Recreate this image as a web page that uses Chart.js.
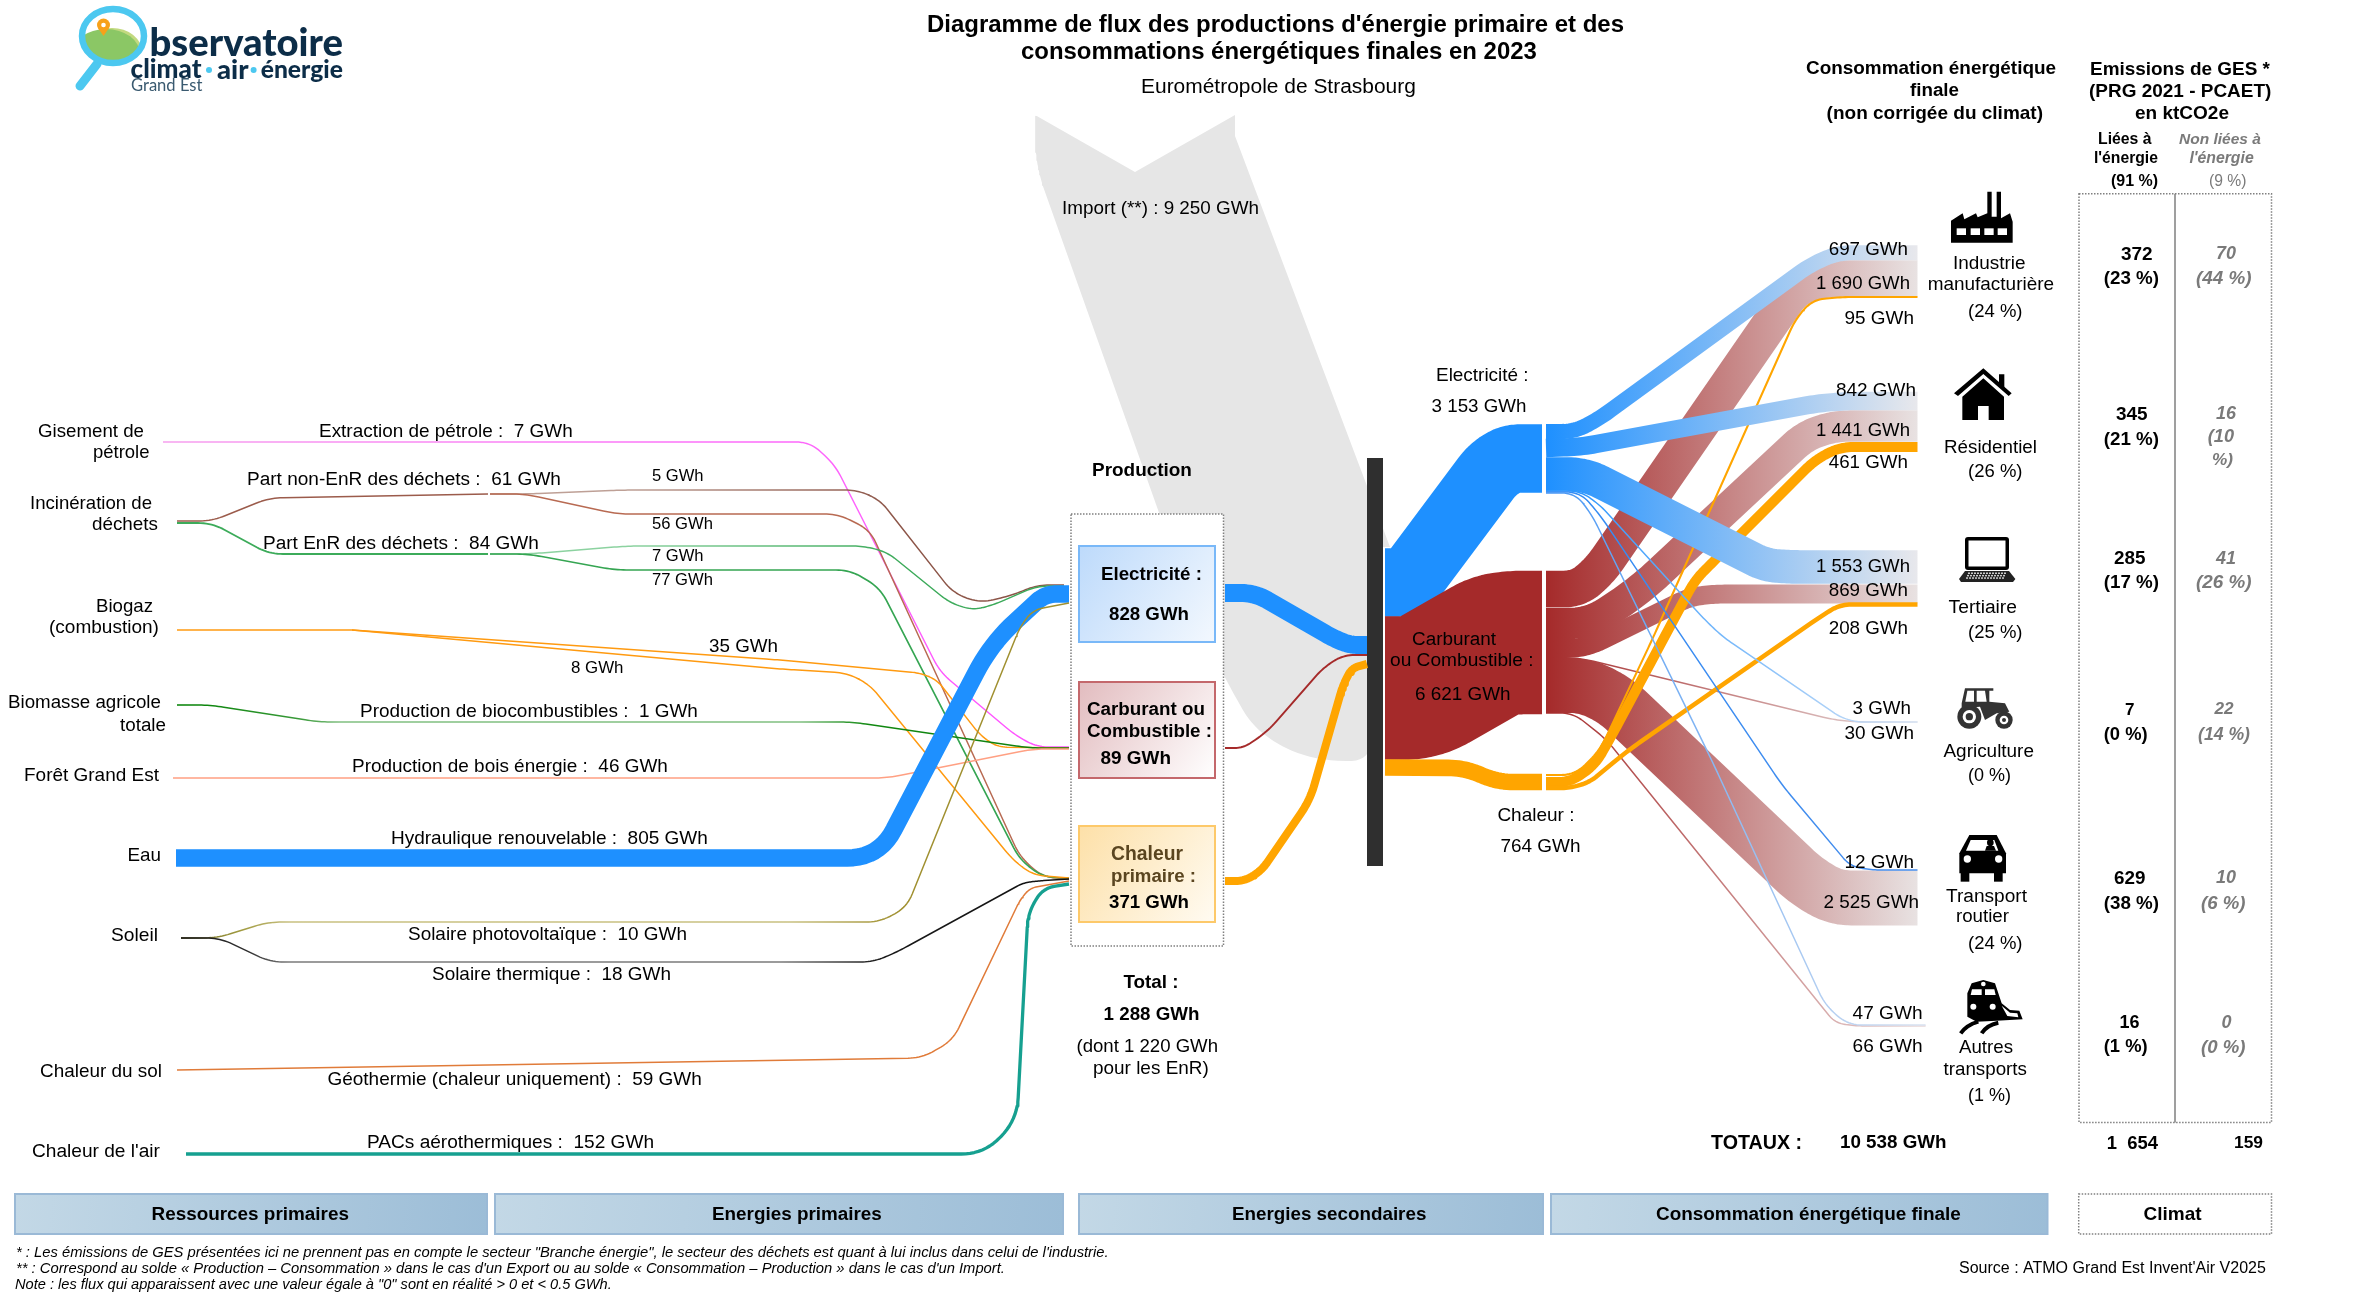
<!DOCTYPE html>
<html lang="fr"><head><meta charset="utf-8"><title>Diagramme de flux</title>
<style>html,body{margin:0;padding:0;background:#fff;overflow:hidden}canvas{display:block}</style>
<script src="https://cdn.jsdelivr.net/npm/chart.js@4"></script></head><body>
<canvas id="c" width="2370" height="1299"></canvas>
<script>
// ---------- chart values (GWh) ----------
const primaryNames = ['petrole','dechetsNonEnR','dechetsNonEnR5','dechetsNonEnR56','dechetsEnR','dechetsEnR7','dechetsEnR77','biogaz','biogaz35','biogaz8','biocombustibles','bois','hydraulique','photovoltaique','thermique','geothermie','pac'];
const primaryValues = [7,61,5,56,84,7,77,43,35,8,1,46,805,10,18,59,152];
const secondaryNames = ['prodElec','prodCarb','prodChaleur'];
const secondaryValues = [828,89,371];
const importValue = [9250];
const finalNames = ['mainElec','mainCarb','mainChaleur'];
const finalValues = [3153,6621,764];
const sectors = ['Ind','Res','Ter','Agr','Rou','Aut'];
const electricityBySector = [697,842,1553,3,12,47];
const fuelBySector = [1690,1441,869,30,2525,66];
const heatBySector = [95,461,208];
const gesEnergy = [372,345,285,7,629,16];
const gesOther = [70,16,41,22,10,0];

// ---------- layout: flow routes (waypoints on the page scale) ----------
const PX_PER_GWH = 0.0217;
const ELEC=[[30,144,255,1],[232,232,236,1]], FUEL=[[165,42,42,1],[232,226,226,1]];
const routes = {
 petrole:{c:[[246,160,238,1],[255,85,255,1],163,1000],p:[[163,442],[810,442],[835,465],[940,672],[1015,735],[1037,747],[1069,747]]},
 dechetsNonEnR:{c:'#9b5b4b',p:[[177,521],[212,521],[269,498],[488,494]]},
 dechetsNonEnR5:{c:[[190,160,150,1],[140,85,72,1],625,900],p:[[490,494],[525,494],[625,490],[857,490],[880,500],[953,593],[980,603],[1013,595],[1037,585],[1064,585]]},
 dechetsNonEnR56:{c:'#b86a52',p:[[490,494],[525,494],[617,514],[838,514],[870,530],[1020,857],[1043,877],[1069,879]]},
 dechetsEnR:{c:'#3cab5a',p:[[177,523],[212,523],[269,554],[488,554]]},
 dechetsEnR7:{c:[[140,210,160,1],[60,170,90,1],630,900],p:[[490,554],[528,554],[628,546],[863,546],[887,552],[950,603],[973,610],[993,605],[1037,586],[1064,586]]},
 dechetsEnR77:{c:'#35a552',p:[[490,554],[528,554],[615,570],[850,570],[880,588],[1020,860],[1043,877],[1069,878]]},
 biogaz:{c:'#ff9a10',p:[[177,630],[352,630]]},
 biogaz35:{c:'#ff9a10',p:[[352,630],[780,660],[920,673],[937,680],[980,735],[997,747],[1069,748]]},
 biogaz8:{c:'#ff9a10',p:[[352,630],[780,669],[847,673],[870,685],[1013,860],[1033,875],[1069,878]]},
 biocombustibles:{c:{stops:[[177,'#008000'],[300,'#3a9a3a'],[340,'#80bf80'],[800,'#80bf80'],[870,'#108810'],[1069,'#108010']]},p:[[177,705],[210,705],[319,722],[852,722],[1030,748],[1069,748]]},
 bois:{c:'#ffa083',p:[[173,778],[887,778],[1033,749],[1069,749]]},
 hydraulique:{c:'#1e90ff',R:32,p:[[176,858],[879,858],[991,644],[1045,594],[1069,594]]},
 photovoltaique:{c:{stops:[[181,'#6b6520'],[240,'#a09a40'],[290,'#c8c080'],[790,'#c8c080'],[900,'#a09030'],[1069,'#a09030']]},p:[[181,938],[217,938],[268,922],[880,922],[907,907],[1020,627],[1033,610],[1069,603]]},
 thermique:{c:{stops:[[181,'#111111'],[250,'#333333'],[290,'#7a7a7a'],[780,'#7a7a7a'],[880,'#1a1a1a'],[1069,'#111111']]},p:[[181,938],[220,938],[270,962],[873,962],[897,952],[1023,883],[1037,881],[1069,879]]},
 geothermie:{c:'#e07b39',p:[[177,1070],[922,1058],[953,1040],[1020,900],[1030,888],[1069,881]]},
 pac:{c:'#16a090',R:25,p:[[186,1154],[984,1154],[1017,1120],[1028,913],[1043,888],[1069,884]]},
 prodElec:{c:'#1e90ff',R:22,p:[[1225,593],[1255,593],[1333,638],[1350,645],[1367,645]]},
 prodCarb:{c:'#a52a2a',R:18,p:[[1225,748],[1243,748],[1267,732],[1323,668],[1343,655],[1367,655]]},
 prodChaleur:{c:'#ffa500',R:16,p:[[1225,881],[1245,881],[1262,870],[1310,800],[1343,685],[1352,668],[1367,664]]},
 mainElec:{c:'#1e90ff',R:36,p:[[1385,582.5],[1408,582.5],[1492,470],[1510,458.5],[1542,458.5]]},
 mainCarb:{c:'#a52a2a',R:34,p:[[1385,688],[1420,688],[1495,645],[1515,642.5],[1542,642.5]]},
 mainChaleur:{c:'#ffa500',R:26,p:[[1385,767.5],[1465,768],[1497,782],[1542,782]]},
 eInd:{c:ELEC,R:26,p:[[1546,431.5],[1575,431.5],[1600,418],[1810,265],[1838,252.7],[1917.5,252.7]]},
 eRes:{c:ELEC,R:20,p:[[1546,448],[1580,447],[1820,403],[1850,401],[1917.5,401]]},
 eTer:{c:ELEC,R:24,p:[[1546,474],[1585,474],[1765,565],[1790,567],[1917.5,567]]},
 eAgr:{c:[[30,144,255,1],[215,228,245,1]],p:[[1546,491],[1580,491],[1600,505],[1705,620],[1723,637],[1840,717],[1856,722],[1917.5,722]]},
 eRou:{c:[[50,140,245,1],[70,140,235,1]],p:[[1546,492],[1580,492],[1600,515],[1782,785],[1850,866],[1871,870],[1917.5,870]]},
 eAut:{c:[[70,150,245,1],[215,225,240,1]],p:[[1546,493],[1575,493],[1592,515],[1713,763],[1825,1005],[1848,1025],[1925.6,1025]]},
 fInd:{c:FUEL,R:26,p:[[1546,589],[1578,589],[1600,570],[1795,288],[1825,278.5],[1917.5,278.5]]},
 fRes:{c:FUEL,R:26,p:[[1546,623.5],[1590,623.5],[1640,590],[1805,436],[1835,426],[1917.5,426]]},
 fTer:{c:FUEL,R:22,p:[[1546,648.5],[1585,648.5],[1690,597],[1715,594],[1917.5,594]]},
 fAgr:{c:FUEL,p:[[1546,658],[1580,658],[1835,720],[1860,722],[1917.5,722]]},
 fRou:{c:FUEL,R:30,p:[[1546,685.5],[1585,685.5],[1615,700],[1805,880],[1835,898],[1917.5,898]]},
 fAut:{c:[[165,42,42,1],[232,215,215,1]],p:[[1546,713],[1573,713],[1606,739],[1835,1023],[1856,1026],[1925.6,1026]]},
 hInd:{c:'#ffa500',p:[[1546,775],[1575,775],[1600,750],[1652,640],[1795,320],[1812,300],[1840,297],[1917.5,297]]},
 hRes:{c:'#ffa500',R:24,p:[[1546,782],[1570,782],[1595,765],[1612,735],[1695,580],[1715,560],[1815,460],[1840,447],[1917.5,447]]},
 hTer:{c:'#ffa500',R:18,p:[[1546,788],[1570,788],[1590,782],[1626,752],[1820,617],[1840,604.5],[1917.5,604.5]]}
};
const importArrowHead=[[1035,115],[1135,172],[1235,115],[1235,136],[1390,547]];
const importBody=[[1372,547],[1372,762],[1320,760],[1285,749],[1252,726],[1223,675],[1190,600],[1040,178],[1035,150],[1035,115]];
const connectorBar=[[1375,458],[1375,866]];

// ---------- texts: [text, left, right, centre y, style, colour] ----------
const GREY='#7a7a7a';
const texts=[
["Diagramme de flux des productions d'énergie primaire et des",927,1624,24,'b'],
["consommations énergétiques finales en 2023",1021,1537,50.6,'b'],
["Eurométropole de Strasbourg",1141,1416,86],
["Gisement de",38,144,430],["pétrole",93,149.5,451],["Extraction de pétrole :  7 GWh",319,573,430],
["Part non-EnR des déchets :  61 GWh",247,561,478],["5 GWh",652,703.6,475],["Incinération de",30,152,502],["déchets",92,158,523],["56 GWh",652,713,523],
["Part EnR des déchets :  84 GWh",263,539,542],["7 GWh",652,703.6,555],["77 GWh",652,713,579],
["Biogaz",96,153,605],["(combustion)",49,159,626.5],["35 GWh",709,778,645],["8 GWh",571,623.5,667],
["Biomasse agricole",8,161,701],["totale",120,166,724],["Production de biocombustibles :  1 GWh",360,698,710],
["Forêt Grand Est",24,159,774],["Production de bois énergie :  46 GWh",352,668,765.5],
["Eau",127.5,161,854],["Hydraulique renouvelable :  805 GWh",391,708,837],
["Soleil",111,158,934],["Solaire photovoltaïque :  10 GWh",408,687,933.5],["Solaire thermique :  18 GWh",432,671,973],
["Chaleur du sol",40,162,1070],["Géothermie (chaleur uniquement) :  59 GWh",327.5,702,1078],
["Chaleur de l'air",32,160,1150.5],["PACs aérothermiques :  152 GWh",367,654,1141.5],
["Ressources primaires",151.5,349,1213,'b'],["Energies primaires",712,882,1213,'b'],["Energies secondaires",1232,1426.5,1213,'b'],["Consommation énergétique finale",1656,1961,1213,'b'],["Climat",2143.5,2201.6,1213,'b'],
["* : Les émissions de GES présentées ici ne prennent pas en compte le secteur \"Branche énergie\", le secteur des déchets est quant à lui inclus dans celui de l'industrie.",16,1110,1251,'i'],
["** : Correspond au solde « Production – Consommation » dans le cas d'un Export ou au solde « Consommation – Production » dans le cas d'un Import.",16,1005,1267,'i'],
["Note : les flux qui apparaissent avec une valeur égale à \"0\" sont en réalité > 0 et < 0.5 GWh.",15,612,1284,'i'],
["Source : ATMO Grand Est Invent'Air V2025",1959,2266,1267],
["Import (**) : 9 250 GWh",1062,1259,207.6],["Production",1092,1192,469,'b'],
["Electricité :",1101,1202,573,'b'],["828 GWh",1109,1189,613,'b'],
["Carburant ou",1087,1205,708,'b'],["Combustible :",1087,1212,730,'b'],["89 GWh",1100.5,1171,757,'b'],
["Chaleur",1111,1183,853,'b','#5a4520'],["primaire :",1111,1196,875,'b','#5a4520'],["371 GWh",1109,1189,901.5,'b'],
["Total :",1123.5,1178.6,981.6,'b'],["1 288 GWh",1103.6,1199.5,1013,'b'],["(dont 1 220 GWh",1076.5,1218,1045],["pour les EnR)",1093,1209,1067],
["Electricité :",1436,1528.6,374.5],["3 153 GWh",1431.6,1526.5,405],
["Carburant",1412,1496,638.6],["ou Combustible :",1390,1533.7,659.4],["6 621 GWh",1415,1510.7,693.6],
["Chaleur :",1497.4,1574.5,814.5],["764 GWh",1500.5,1580.6,845],
["Consommation énergétique",1806,2056,67,'b'],["finale",1910,1959,89.4,'b'],["(non corrigée du climat)",1826.6,2043,112.7,'b'],
["Emissions de GES *",2090,2270,68.4,'b'],["(PRG 2021 - PCAET)",2089,2271.5,90.5,'b'],["en ktCO2e",2135,2229,112.7,'b'],
["Liées à",2098,2151.6,138.4,'b'],["l'énergie",2094,2158,157.4,'b'],["(91 %)",2111,2158,180.7,'b'],
["Non liées à",2179,2261,138.4,'bi',GREY],["l'énergie",2189.4,2253.7,157.4,'bi',GREY],["(9 %)",2209,2246.5,180.7,'',GREY],
["697 GWh",1828.7,1908,248],["1 690 GWh",1816,1910,282],["95 GWh",1844.5,1914,317.5],
["842 GWh",1836,1916,389.5],["1 441 GWh",1816,1910,429.4],["461 GWh",1828.7,1908,461.4],
["1 553 GWh",1816,1910,565.4],["869 GWh",1828.7,1908,589],["208 GWh",1828.7,1908,627],
["3 GWh",1852.6,1911,707.5],["30 GWh",1844.5,1914,732.6],["12 GWh",1844.5,1914,861],["2 525 GWh",1823.6,1919,901.5],
["47 GWh",1852.6,1922.6,1012.4],["66 GWh",1852.6,1922.6,1045.7],
["TOTAUX :",1711,1802,1142.3,'b'],["10 538 GWh",1840,1946.5,1141.4,'b'],["1  654",2106.7,2158,1142.3,'b'],["159",2234,2263,1142.3,'b'],
["Industrie",1953,2025.6,262.6],["manufacturière",1927.7,2054,283.5],["(24 %)",1968,2022.5,311],
["Résidentiel",1944,2037,446.8],["(26 %)",1968,2022.5,471],
["Tertiaire",1948.6,2017,606.6],["(25 %)",1968,2022.5,631.7],
["Agriculture",1943.5,2034,750.8],["(0 %)",1968,2011,775],
["Transport",1946,2027,895],["routier",1956,2009,915.8],["(24 %)",1968,2022.5,943],
["Autres",1959,2013,1046.6],["transports",1943.5,2027,1068],["(1 %)",1968,2011,1095],
[String(gesEnergy[0]),2121,2152.6,253,'b'],["(23 %)",2103.7,2159,277.6,'b'],[String(gesOther[0]),2216,2236,253,'bi',GREY],["(44 %)",2196,2251.6,277.6,'bi',GREY],
[String(gesEnergy[1]),2116,2147.6,413,'b'],["(21 %)",2103.7,2159,438,'b'],[String(gesOther[1]),2216,2236,413,'bi',GREY],["(10",2207.8,2234,436,'bi',GREY],["%)",2212,2233,459,'bi',GREY],
[String(gesEnergy[2]),2114,2145.5,557.5,'b'],["(17 %)",2103.7,2159,581.6,'b'],[String(gesOther[2]),2216,2236,557.5,'bi',GREY],["(26 %)",2196,2251.6,581.6,'bi',GREY],
[String(gesEnergy[3]),2125,2134.5,709,'b'],["(0 %)",2103.7,2147.6,734,'b'],[String(gesOther[3]),2214.4,2233.5,707.5,'bi',GREY],["(14 %)",2198,2250,734,'bi',GREY],
[String(gesEnergy[4]),2114,2145.5,877,'b'],["(38 %)",2103.7,2159,902,'b'],[String(gesOther[4]),2216,2236,877,'bi',GREY],["(6 %)",2201,2245.5,902,'bi',GREY],
[String(gesEnergy[5]),2119.5,2139.5,1021.5,'b'],["(1 %)",2103.7,2147.6,1046,'b'],[String(gesOther[5]),2221.5,2231.5,1021.5,'bi',GREY],["(0 %)",2201,2245.5,1046,'bi',GREY]
];
const TEXT_DY=1.4;

// ---------- helpers ----------
function rounded(pts,R){
  const out=[{x:pts[0][0],y:pts[0][1]}];
  for(let i=1;i<pts.length-1;i++){
    const [x0,y0]=pts[i-1],[x1,y1]=pts[i],[x2,y2]=pts[i+1];
    const d1=Math.hypot(x1-x0,y1-y0),d2=Math.hypot(x2-x1,y2-y1),r=Math.min(R,d1*.48,d2*.48);
    const ax=x1+(x0-x1)*r/d1,ay=y1+(y0-y1)*r/d1,bx=x1+(x2-x1)*r/d2,by=y1+(y2-y1)*r/d2;
    for(let k=0;k<=10;k++){const t=k/10,u=1-t;out.push({x:u*u*ax+2*u*t*x1+t*t*bx,y:u*u*ay+2*u*t*y1+t*t*by});}
  }
  const l=pts[pts.length-1];out.push({x:l[0],y:l[1]});return out;
}
const rgba=a=>`rgba(${a[0]},${a[1]},${a[2]},${a[3]})`;
function stroke(c,x0){
  if(typeof c==='string')return c;
  return ctx=>{
    const ch=ctx.chart;
    if(c.stops){
      if(!ch.chartArea)return c.stops[0][1];
      const s=ch.scales.x,a=c.stops[0][0],b=c.stops[c.stops.length-1][0];
      const g=ch.ctx.createLinearGradient(s.getPixelForValue(a),0,s.getPixelForValue(b),0);
      c.stops.forEach(p=>g.addColorStop((p[0]-a)/(b-a),p[1]));return g;
    }
    if(!ch.chartArea)return rgba(c[0]);
    const a=c[2]??x0,b=c[3]??1917.5,s=ch.scales.x;
    const g=ch.ctx.createLinearGradient(s.getPixelForValue(a),0,s.getPixelForValue(b),0);
    g.addColorStop(0,rgba(c[0]));g.addColorStop(1,rgba(c[1]));return g;
  };
}
const datasets=[];
function addFlow(key,value){
  const r=routes[key];
  datasets.push({label:key,data:rounded(r.p,r.R||14),showLine:true,pointRadius:0,fill:false,
    borderWidth:Math.max(1.5,value*PX_PER_GWH),borderColor:stroke(r.c,r.p[0][0]),borderCapStyle:'butt',borderJoinStyle:'round',tension:0});
}
// bottom → top
const importShape=importArrowHead.map(p=>({x:p[0],y:p[1]})).concat(rounded(importBody,28));
datasets.push({label:'import',data:importShape,showLine:true,pointRadius:0,borderWidth:0,borderColor:'#e6e6e6',backgroundColor:'#e6e6e6',fill:'shape',tension:0});
datasets.push({label:'bar',data:connectorBar.map(p=>({x:p[0],y:p[1]})),showLine:true,pointRadius:0,borderWidth:16,borderColor:'#2f2f2f',borderCapStyle:'butt',fill:false});
finalNames.forEach((n,i)=>addFlow(n,finalValues[i]));
sectors.forEach((s,i)=>addFlow('f'+s,fuelBySector[i]));
heatBySector.forEach((v,i)=>addFlow('h'+sectors[i],v));
sectors.forEach((s,i)=>addFlow('e'+s,electricityBySector[i]));
secondaryNames.forEach((n,i)=>addFlow(n,secondaryValues[i]));
primaryNames.forEach((n,i)=>addFlow(n,primaryValues[i]));
datasets.forEach((d,i)=>d.order=datasets.length-i);

// ---------- decoration ----------
function gradBox(c,x0,y0,x1,y1,from,to,border,lw){
  const g=c.createLinearGradient(x0,y0,x1,y1);g.addColorStop(0,from);g.addColorStop(1,to);
  c.fillStyle=g;c.fillRect(x0,y0,x1-x0,y1-y0);c.strokeStyle=border;c.lineWidth=lw||2;c.strokeRect(x0,y0,x1-x0,y1-y0);
}
function dotted(c,x0,y0,x1,y1){
  c.save();c.setLineDash([1.5,1.5]);c.strokeStyle='#808080';c.lineWidth=1.5;c.strokeRect(x0,y0,x1-x0,y1-y0);c.restore();
}
function poly(c,pts,ox,oy,fill){
  c.beginPath();pts.forEach((p,i)=>{const x=ox+p[0]/3,y=oy+p[1]/3;i?c.lineTo(x,y):c.moveTo(x,y);});c.closePath();c.fillStyle=fill;c.fill();
}
function circ(c,ox,oy,x,y,r,fill){c.beginPath();c.arc(ox+x/3,oy+y/3,r/3,0,7);c.fillStyle=fill;c.fill();}
function icons(c){
  const K='#000',W='#fff';let ox=1930,oy=180;
  poly(c,[[63,188],[63,122],[98,100],[103,118],[138,100],[143,112],[172,100],[172,35],[185,35],[185,110],[200,110],[200,35],[213,35],[213,115],[240,100],[248,125],[248,188]],ox,oy,K);
  [80,122,163,203].forEach(x=>poly(c,[[x,145],[x+28,145],[x+28,165],[x,165]],ox,oy,W));
  poly(c,[[207,583],[223,583],[223,632],[207,620]],ox,oy,K);
  poly(c,[[160,565],[245,640],[236,648],[160,582],[84,648],[72,640]],ox,oy,K);
  poly(c,[[160,595],[222,650],[222,720],[176,720],[176,678],[144,678],[144,720],[97,720],[97,650]],ox,oy,K);
  c.fillStyle=K;c.beginPath();c.roundRect(1965,537,44,33,3);c.fill();
  c.fillStyle=W;c.fillRect(1968.5,540.5,37,26);
  c.fillStyle='#222';c.beginPath();c.moveTo(1965,571);c.lineTo(2009,571);c.lineTo(2015.4,579);c.lineTo(2013,582);c.lineTo(1961,582);c.lineTo(1959,579);c.closePath();c.fill();
  c.fillStyle='#ccc';for(let r=0;r<3;r++)for(let i=0;i<13;i++)c.fillRect(1968+i*3-r,572.5+r*2.4,2,1.5);
  ox=1930;oy=660;const D='#333';
  circ(c,ox,oy,118,170,36,D);circ(c,ox,oy,118,170,20,W);circ(c,ox,oy,118,170,11,D);
  circ(c,ox,oy,222,180,26,D);circ(c,ox,oy,222,180,13,W);circ(c,ox,oy,222,180,6,D);
  poly(c,[[95,130],[105,85],[190,85],[190,92],[178,92],[178,125],[225,130],[238,155],[200,160],[165,180],[150,140],[95,145]],ox,oy,D);
  poly(c,[[112,92],[132,92],[132,125],[106,125]],ox,oy,W);poly(c,[[140,92],[165,92],[170,125],[140,125]],ox,oy,W);
  c.fillStyle=K;c.beginPath();c.moveTo(ox+118/3,oy+525/3);c.lineTo(ox+200/3,oy+525/3);c.lineTo(ox+228/3,oy+580/3);c.lineTo(ox+228/3,oy+640/3);c.lineTo(ox+88/3,oy+640/3);c.lineTo(ox+88/3,oy+580/3);c.closePath();c.fill();
  c.fillRect(ox+92/3,oy+630/3,26/3,35/3);c.fillRect(ox+192/3,oy+630/3,26/3,35/3);
  poly(c,[[122,540],[193,540],[205,572],[108,572]],ox,oy,W);
  circ(c,ox,oy,181,548,10,K);poly(c,[[165,572],[170,558],[192,558],[198,572]],ox,oy,K);
  circ(c,ox,oy,112,597,11,W);circ(c,ox,oy,206,597,11,W);
  poly(c,[[112,1070],[112,1000],[125,970],[160,960],[195,970],[215,1030],[240,1050],[268,1052],[278,1078],[200,1082],[140,1085]],ox,oy,K);
  poly(c,[[126,988],[155,988],[155,1005],[122,1005]],ox,oy,W);poly(c,[[165,988],[193,988],[197,1005],[165,1005]],ox,oy,W);
  poly(c,[[215,1037],[240,1058],[262,1060],[265,1072],[232,1068]],ox,oy,W);
  circ(c,ox,oy,130,1040,9,W);circ(c,ox,oy,188,1040,9,W);circ(c,ox,oy,160,972,7,W);
  c.strokeStyle=K;c.lineWidth=4;c.beginPath();c.moveTo(ox+92/3,oy+1120/3);c.quadraticCurveTo(ox+110/3,oy+1095/3,ox+145/3,oy+1085/3);c.moveTo(ox+155/3,oy+1120/3);c.quadraticCurveTo(ox+170/3,oy+1095/3,ox+205/3,oy+1088/3);c.stroke();
}
function logo(c){
  c.save();
  c.strokeStyle='#4cc8f0';c.lineWidth=9;c.lineCap='round';c.beginPath();c.moveTo(97,64);c.lineTo(80,86);c.stroke();
  c.fillStyle='#fff';c.beginPath();c.ellipse(113,36,31,27,0,0,7);c.fill();
  c.save();c.beginPath();c.ellipse(113,36,30,26,0,0,7);c.clip();
  c.fillStyle='#c2d97f';c.beginPath();c.ellipse(112,52,30,24,0,0,7);c.fill();
  c.fillStyle='#8bc765';c.beginPath();c.ellipse(106,54,34,25,0,0,7);c.fill();c.restore();
  c.lineWidth=6.5;c.beginPath();c.ellipse(113,36,31,27,0,0,7);c.stroke();
  c.fillStyle='#f7a11a';c.beginPath();c.arc(103.5,25,6.5,0,7);c.fill();c.beginPath();c.moveTo(98,28);c.lineTo(103.5,36);c.lineTo(109,28);c.fill();
  c.fillStyle='#fff';c.beginPath();c.arc(103.5,25,2.3,0,7);c.fill();
  c.fillStyle='#4cc8f0';[209,253.6].forEach(x=>{c.beginPath();c.arc(x,70,3,0,7);c.fill();});
  c.restore();
  const N='#0c2d48';
  fit(c,'bservatoire',149.5,343,43.5,'x',N,'Lato');fit(c,'climat',130.6,201.5,70,'x',N,'Lato');fit(c,'air',217,248.5,70,'x',N,'Lato');fit(c,'énergie',260.7,343,70,'x',N,'Lato');fit(c,'Grand Est',131,202.5,85.4,'','#3a5a70','Lato');
}
function fit(c,t,x0,x1,y,st,col,fam){
  st=st||'';
  const w=st.includes('x')?'900 ':st.includes('b')?'bold ':'',i=st.includes('i')?'italic ':'',f=fam||'"Liberation Sans"';
  c.font=`${i}${w}100px ${f}`;const m=c.measureText(t).width,s=100*(x1-x0)/m;
  c.font=`${i}${w}${s.toFixed(2)}px ${f}`;c.textAlign='left';c.textBaseline='middle';c.fillStyle=col||'#000';c.fillText(t,x0,y);
}
const page={id:'page',
  afterDatasetDraw(ch,a){
    if(ch.data.datasets[a.index].label!=='bar')return;
    const c=ch.ctx;c.save();
    c.fillStyle='#fff';c.fillRect(1071,514,152.5,432);dotted(c,1071,514,1223.5,946);
    gradBox(c,1079,546,1215,642,'#bddafb','#f3f8fe','#79b8f8');
    gradBox(c,1079,682,1215,778,'#e2bcbf','#ffffff','#c4686c');
    gradBox(c,1079,826,1215,922,'#fde0a8','#fffbf2','#fdc96a');
    c.restore();
  },
  afterDraw(ch){
    const c=ch.ctx;c.save();
    [[15,487],[495,1063],[1079,1543],[1551,2047.5]].forEach(b=>gradBox(c,b[0],1194,b[1],1234,'#c3d8e6','#9cbdd7','#9ab9d6'));
    dotted(c,2078.7,1194,2271.5,1234);
    dotted(c,2079,193.8,2271.5,1122.4);
    c.strokeStyle='#7f7f7f';c.lineWidth=1.5;c.beginPath();c.moveTo(2175,193.8);c.lineTo(2175,1122.4);c.stroke();
    icons(c);logo(c);
    texts.forEach(t=>fit(c,t[0],t[1],t[2],t[3]+TEXT_DY,t[4],t[5]));
    c.restore();
  }
};
new Chart(document.getElementById('c'),{type:'scatter',data:{datasets},plugins:[page],options:{
  responsive:false,animation:false,devicePixelRatio:1,layout:{padding:0},
  events:[],
  plugins:{legend:{display:false},tooltip:{enabled:false},title:{display:false}},
  scales:{x:{type:'linear',min:0,max:2370,display:false},y:{type:'linear',min:0,max:1299,reverse:true,display:false}}
}});
</script></body></html>
